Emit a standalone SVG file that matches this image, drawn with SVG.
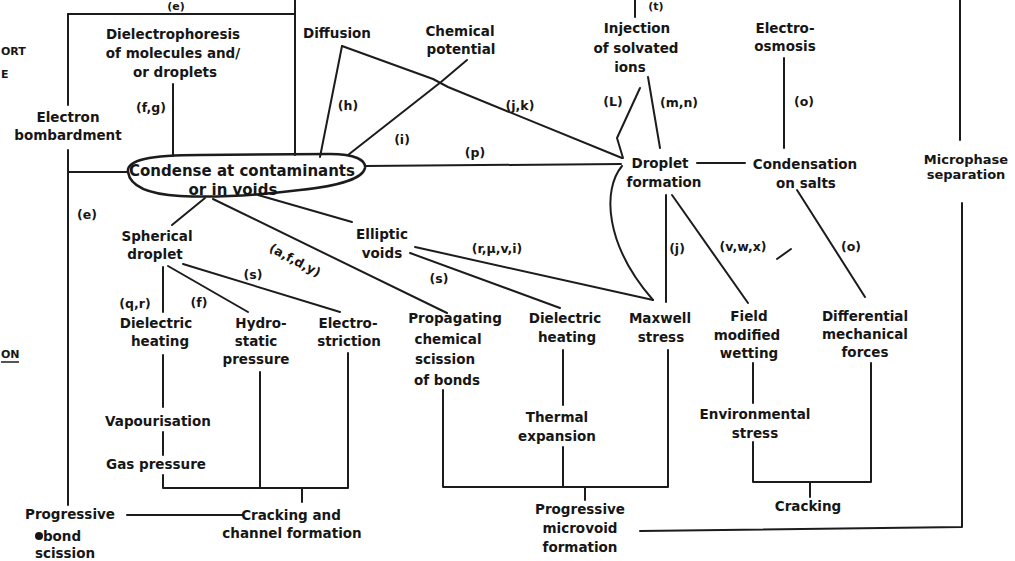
<svg xmlns="http://www.w3.org/2000/svg" width="1015" height="561" viewBox="0 0 1015 561">
<style>
.t{font-family:"DejaVu Sans","Liberation Sans",sans-serif;font-weight:bold;font-size:13.5px;fill:#161616;text-anchor:middle}
.lb{font-family:"DejaVu Sans","Liberation Sans",sans-serif;font-weight:bold;font-size:12.5px;fill:#161616;text-anchor:middle}
.m{font-family:"DejaVu Sans","Liberation Sans",sans-serif;font-weight:bold;font-size:11px;fill:#161616}
.c path{stroke:#1c1c1c;stroke-width:2;fill:none;stroke-linecap:round;stroke-linejoin:round}
</style>
<rect width="1015" height="561" fill="#ffffff"/>
<g id="margin">
<text class="m" x="1" y="55">ORT</text>
<text class="m" x="1" y="78">E</text>
<text class="m" x="1" y="358">ON</text>
<path d="M1 362 H19" stroke="#1c1c1c" stroke-width="1.5"/>
</g>
<g class="c" id="connectors">
<path d="M68 14 H295"/>
<path d="M295 0 V155"/>
<path d="M68 14 V105"/>
<path d="M68 150 V505"/>
<path d="M68 172 H128"/>
<path d="M173 84 V156"/>
<path d="M342 46 L320 157"/>
<path d="M342 46 L433 79 L448 87 L622 158"/>
<path d="M467 60 L441 82 L348 155"/>
<path d="M365 166 L621 164"/>
<path d="M635 0 V17"/>
<path d="M640 88 L617 138 L623 158"/>
<path d="M648 77 L660 148"/>
<path d="M697 163 H745"/>
<path d="M784 58 V148"/>
<path d="M960 0 V140"/>
<path d="M962 203 V527 L640 531"/>
<path d="M797 190 L865 297"/>
<path d="M672 195 L748 303"/>
<path d="M666 195 V302"/>
<path d="M622 166 C602 190 605 245 653 300"/>
<path d="M777 259 L791 249"/>
<path d="M205 198 L172 225"/>
<path d="M213 199 L447 313"/>
<path d="M258 195 L352 222"/>
<path d="M415 247 L653 300"/>
<path d="M410 253 L560 308"/>
<path d="M163 267 V312"/>
<path d="M168 266 L248 312"/>
<path d="M183 264 L340 312"/>
<path d="M163 355 V407"/>
<path d="M163 432 V455"/>
<path d="M163 475 V488 H348 V353"/>
<path d="M260 372 V488"/>
<path d="M302 488 V502"/>
<path d="M127 515 H243"/>
<path d="M443 390 V487 H668 V350"/>
<path d="M563 350 V405"/>
<path d="M563 447 V487"/>
<path d="M585 487 V500"/>
<path d="M753 363 V403"/>
<path d="M753 442 V482 H871 V363"/>
<path d="M810 482 V497"/>
</g>
<g id="labels">
<text class="lb" x="176" y="10" style="font-size:11px">(e)</text>
<text class="lb" x="656" y="10" style="font-size:11px">(t)</text>
<text class="lb" x="151" y="112">(f,g)</text>
<text class="lb" x="348" y="110">(h)</text>
<text class="lb" x="402" y="144">(i)</text>
<text class="lb" x="520" y="110">(j,k)</text>
<text class="lb" x="475" y="157">(p)</text>
<text class="lb" x="613" y="106">(L)</text>
<text class="lb" x="679" y="107">(m,n)</text>
<text class="lb" x="804" y="106">(o)</text>
<text class="lb" x="87" y="219">(e)</text>
<text class="lb" transform="translate(293 264) rotate(28)">(a,f,d,y)</text>
<text class="lb" x="253" y="279">(s)</text>
<text class="lb" x="135" y="308">(q,r)</text>
<text class="lb" x="199" y="307">(f)</text>
<text class="lb" x="497" y="253">(r,μ,v,i)</text>
<text class="lb" x="439" y="283">(s)</text>
<text class="lb" x="677" y="253">(j)</text>
<text class="lb" x="743" y="251">(v,w,x)</text>
<text class="lb" x="851" y="251">(o)</text>
</g>
<g id="n_dielectrophoresis"><text class="t"><tspan x="173" y="39">Dielectrophoresis</tspan><tspan x="173" y="58">of molecules and/</tspan><tspan x="175" y="77">or droplets</tspan></text></g>
<g id="n_electron"><text class="t"><tspan x="68" y="122">Electron</tspan><tspan x="68" y="140">bombardment</tspan></text></g>
<g id="n_condense">
<path d="M128 172 C126 160 150 155 200 155 L330 154 C355 154 366 160 365 168 C363 178 340 186 300 190 C260 195 220 198 180 196 C145 194 130 185 128 172 Z" fill="none" stroke="#1c1c1c" stroke-width="2.5"/>
<text class="t" style="font-size:15px"><tspan x="242" y="176">Condense at contaminants</tspan><tspan x="233" y="195">or in voids</tspan></text>
</g>
<g id="n_diffusion"><text class="t" x="337" y="38">Diffusion</text></g>
<g id="n_chempot"><text class="t"><tspan x="460" y="36">Chemical</tspan><tspan x="461" y="54">potential</tspan></text></g>
<g id="n_injection"><text class="t"><tspan x="637" y="33">Injection</tspan><tspan x="636" y="53">of solvated</tspan><tspan x="630" y="72">ions</tspan></text></g>
<g id="n_droplet"><text class="t"><tspan x="660" y="168">Droplet</tspan><tspan x="664" y="187">formation</tspan></text></g>
<g id="n_condsalts"><text class="t"><tspan x="805" y="169">Condensation</tspan><tspan x="806" y="188">on salts</tspan></text></g>
<g id="n_electroosmosis"><text class="t"><tspan x="785" y="33">Electro-</tspan><tspan x="785" y="51">osmosis</tspan></text></g>
<g id="n_microphase"><text class="t" style="font-size:13px"><tspan x="966" y="164">Microphase</tspan><tspan x="966" y="179">separation</tspan></text></g>
<g id="n_spherical"><text class="t"><tspan x="157" y="241">Spherical</tspan><tspan x="155" y="259">droplet</tspan></text></g>
<g id="n_elliptic"><text class="t"><tspan x="382" y="239">Elliptic</tspan><tspan x="382" y="258">voids</tspan></text></g>
<g id="n_dielheat1"><text class="t"><tspan x="156" y="328">Dielectric</tspan><tspan x="160" y="346">heating</tspan></text></g>
<g id="n_hydro"><text class="t"><tspan x="261" y="328">Hydro-</tspan><tspan x="256" y="346">static</tspan><tspan x="256" y="364">pressure</tspan></text></g>
<g id="n_electrostriction"><text class="t"><tspan x="348" y="328">Electro-</tspan><tspan x="349" y="346">striction</tspan></text></g>
<g id="n_propagating"><text class="t"><tspan x="455" y="323">Propagating</tspan><tspan x="448" y="344">chemical</tspan><tspan x="445" y="364">scission</tspan><tspan x="447" y="385">of bonds</tspan></text></g>
<g id="n_dielheat2"><text class="t"><tspan x="565" y="323">Dielectric</tspan><tspan x="567" y="342">heating</tspan></text></g>
<g id="n_maxwell"><text class="t"><tspan x="660" y="323">Maxwell</tspan><tspan x="661" y="342">stress</tspan></text></g>
<g id="n_field"><text class="t"><tspan x="749" y="321">Field</tspan><tspan x="747" y="340">modified</tspan><tspan x="749" y="358">wetting</tspan></text></g>
<g id="n_diffmech"><text class="t"><tspan x="865" y="321">Differential</tspan><tspan x="865" y="339">mechanical</tspan><tspan x="865" y="357">forces</tspan></text></g>
<g id="n_vapour"><text class="t" x="158" y="426">Vapourisation</text></g>
<g id="n_gas"><text class="t" x="156" y="469">Gas pressure</text></g>
<g id="n_progbond">
<ellipse cx="39" cy="536" rx="4" ry="4" fill="#161616"/>
<text class="t"><tspan x="70" y="519">Progressive</tspan><tspan x="62" y="541">bond</tspan><tspan x="65" y="558">scission</tspan></text></g>
<g id="n_crackchan"><text class="t"><tspan x="291" y="520">Cracking and</tspan><tspan x="292" y="538">channel formation</tspan></text></g>
<g id="n_thermal"><text class="t"><tspan x="557" y="422">Thermal</tspan><tspan x="557" y="441">expansion</tspan></text></g>
<g id="n_progmicro"><text class="t"><tspan x="580" y="514">Progressive</tspan><tspan x="580" y="533">microvoid</tspan><tspan x="580" y="552">formation</tspan></text></g>
<g id="n_environ"><text class="t"><tspan x="755" y="419">Environmental</tspan><tspan x="755" y="438">stress</tspan></text></g>
<g id="n_cracking"><text class="t" x="808" y="511">Cracking</text></g>
</svg>
